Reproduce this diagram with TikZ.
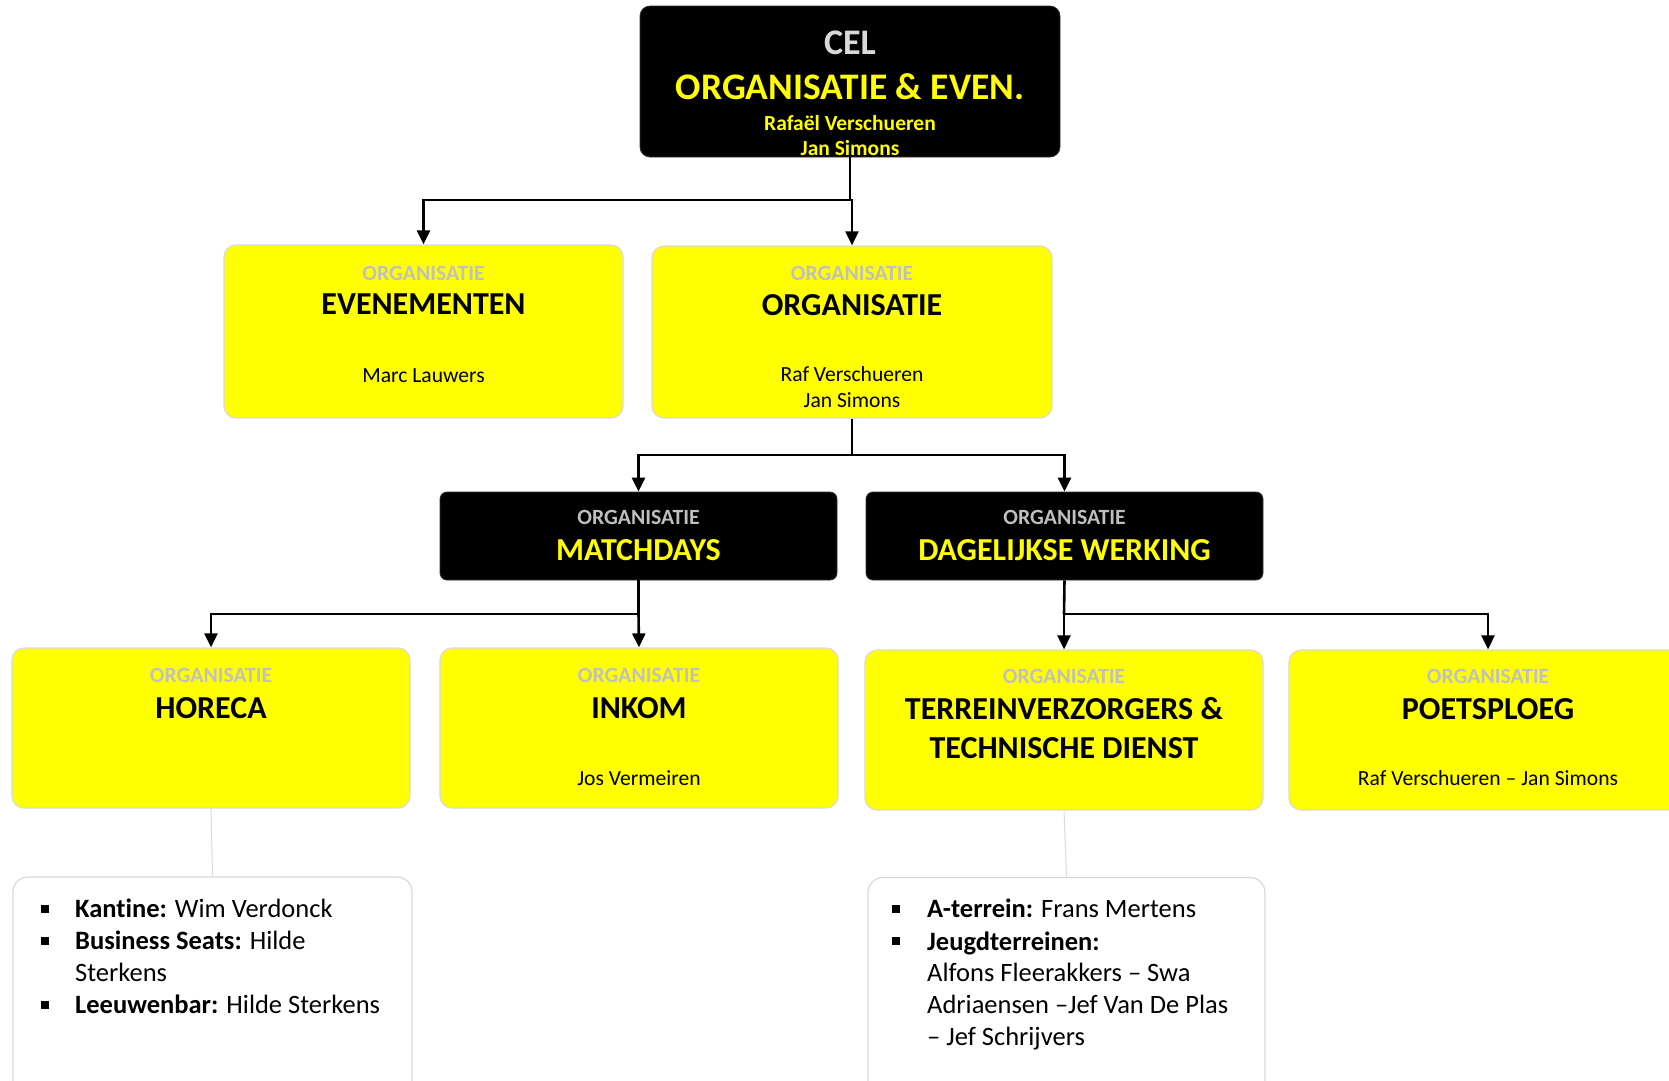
\documentclass[tikz,border=0pt]{standalone}
\usepackage{fontspec}
\setmainfont{Carlito}[Ligatures=NoCommon]
\usetikzlibrary{arrows.meta}
\definecolor{yel}{HTML}{FFFF00}
\definecolor{lgray}{HTML}{BFBFBF}
\definecolor{ygray}{HTML}{C0C0C0}
\definecolor{celgray}{HTML}{D9D9D9}
\definecolor{bord}{HTML}{D9D9D9}
\newcommand{\fsz}[1]{\fontsize{#1}{#1}\selectfont}
\begin{document}
\begin{tikzpicture}[x=1pt,y=-1pt,
  ybox/.style={rectangle, draw=bord, line width=1.2pt, fill=yel, rounded corners=12pt, minimum width=398pt, minimum height=160pt, inner sep=0pt},
  bbox/.style={rectangle, draw=black!80, line width=0.8pt, fill=black, rounded corners=7pt, minimum width=397pt, minimum height=88pt, inner sep=0pt},
  lbox/.style={rectangle, draw=bord, line width=1.2pt, fill=white, rounded corners=15pt, minimum width=399pt, minimum height=233pt, inner sep=0pt},
  txtbase/.style={anchor=base, inner sep=0pt},
  subt/.style={txtbase, text=ygray, font=\fsz{21.7}\bfseries},
  subtb/.style={txtbase, text=lgray, font=\fsz{21.7}\bfseries},
  hdtxt/.style={txtbase, text=black, font=\fsz{32}\bfseries},
  hdtxtb/.style={txtbase, text=yel, font=\fsz{32}\bfseries},
  pname/.style={txtbase, text=black, font=\fsz{21.6}},
  conn/.style={line width=2.6pt, draw=black},
  arr/.style={conn, -{Triangle[length=14pt,width=13pt]}},
  thinc/.style={line width=1pt, draw=celgray},
  bul/.style={rectangle, fill=black, minimum size=8pt, inner sep=0pt},
  itm/.style={anchor=base west, inner sep=0pt, font=\fsz{26.5}}
]
\useasboundingbox (0,0) rectangle (1669,1080);
\clip (0,0) rectangle (1669,1080);
\fill[white] (0,0) rectangle (1669,1080);

% top box
\node[bbox, minimum width=420pt, minimum height=151pt, rounded corners=10pt] (cel) at (850,81.5) {};
\node[txtbase, text=celgray, font=\fsz{36}\bfseries] (t1) at (850,54.5) {CEL};
\node[txtbase, text=yel, font=\fsz{37.5}\bfseries] (t2) at (850,99.5) {ORGANISATIE \& EVEN.};
\node[txtbase, text=yel, font=\fsz{21.5}\bfseries] (t3) at (850,130) {Rafaël Verschueren};
\node[txtbase, text=yel, font=\fsz{21.5}\bfseries] (t4) at (850,155) {Jan Simons};

% row 2
\node[ybox, minimum width=399pt, minimum height=173pt] (even) at (423.5,331.5) {};
\node[subt] (e1) at (423.5,280) {ORGANISATIE};
\node[hdtxt] (e2) at (423.5,314.3) {EVENEMENTEN};
\node[pname] (e3) at (423.5,382) {Marc Lauwers};

\node[ybox, minimum width=400pt, minimum height=172pt] (org) at (852,332) {};
\node[subt] (o1) at (852,280) {ORGANISATIE};
\node[hdtxt] (o2) at (852,315.8) {ORGANISATIE};
\node[pname] (o3) at (852,381.7) {Raf Verschueren};
\node[pname] (o4) at (852,407.2) {Jan Simons};

% row 3
\node[bbox] (match) at (638.5,536) {};
\node[subtb] (m1) at (638.5,524) {ORGANISATIE};
\node[hdtxtb] (m2) at (638.5,560.3) {MATCHDAYS};

\node[bbox] (dag) at (1064.5,536) {};
\node[subtb] (d1) at (1064.5,524) {ORGANISATIE};
\node[hdtxtb] (d2) at (1064.5,560.3) {DAGELIJKSE WERKING};

% row 4
\node[ybox] (horeca) at (211,728) {};
\node[subt] (h1) at (211,682.3) {ORGANISATIE};
\node[hdtxt] (h2) at (211,718.6) {HORECA};

\node[ybox] (inkom) at (639,728) {};
\node[subt] (i1) at (639,682.3) {ORGANISATIE};
\node[hdtxt] (i2) at (639,718.6) {INKOM};
\node[pname] (i3) at (639,785) {Jos Vermeiren};

\node[ybox] (terrein) at (1064,730) {};
\node[subt] (r1) at (1064,683.3) {ORGANISATIE};
\node[hdtxt] (r2) at (1064,719.6) {TERREINVERZORGERS \&};
\node[hdtxt] (r3) at (1064,758.6) {TECHNISCHE DIENST};

\node[ybox] (poets) at (1488,730) {};
\node[subt] (p1) at (1488,683.3) {ORGANISATIE};
\node[hdtxt] (p2) at (1488,719.6) {POETSPLOEG};
\node[pname] (p3) at (1488,785.3) {Raf Verschueren – Jan Simons};

% lists
\node[lbox] (list1) at (212.5,993.5) {};
\node[bul] (b1) at (45,909) {};
\node[itm] (l1) at (75,917.8) {\textbf{Kantine:} Wim Verdonck};
\node[bul] (b2) at (45,941) {};
\node[itm] (l2) at (75,949.8) {\textbf{Business Seats:} Hilde};
\node[itm] (l3) at (75,981.8) {Sterkens};
\node[bul] (b3) at (45,1005) {};
\node[itm] (l4) at (75,1013.8) {\textbf{Leeuwenbar:} Hilde Sterkens};

\node[lbox, minimum width=397pt] (list2) at (1066.5,994) {};
\node[bul] (c1) at (896,909) {};
\node[itm] (k1) at (927,917.8) {\textbf{A-terrein:} Frans Mertens};
\node[bul] (c2) at (896,941) {};
\node[itm] (k2) at (927,950.3) {\textbf{Jeugdterreinen:}};
\node[itm] (k3) at (927,981.8) {Alfons Fleerakkers – Swa};
\node[itm] (k4) at (927,1013.8) {Adriaensen –Jef Van De Plas};
\node[itm] (k5) at (927,1045.3) {– Jef Schrijvers};

% connectors
\coordinate (j1) at (850,200);
\draw[conn] (cel.south) -- (j1);
\draw[arr] (j1) -| (even.north);
\draw[arr] (j1) -| (org.north);

\coordinate (j2) at (852,455);
\draw[conn] (org.south) -- (j2);
\draw[arr] (j2) -| (match.north);
\draw[arr] (j2) -| (dag.north);

\coordinate (j3) at (638.5,614);
\draw[conn] (match.south) -- (j3);
\draw[arr] (j3) -| (horeca.north);
\draw[arr] (j3) -- (inkom.north);

\coordinate (j4) at (1064,614);
\draw[conn] (dag.south) -- (j4);
\draw[arr] (j4) -- (terrein.north);
\draw[arr] (j4) -| (poets.north);

\draw[thinc] (horeca.south) -- (list1.north);
\draw[thinc] (terrein.south) -- (list2.north);
\end{tikzpicture}
\end{document}
